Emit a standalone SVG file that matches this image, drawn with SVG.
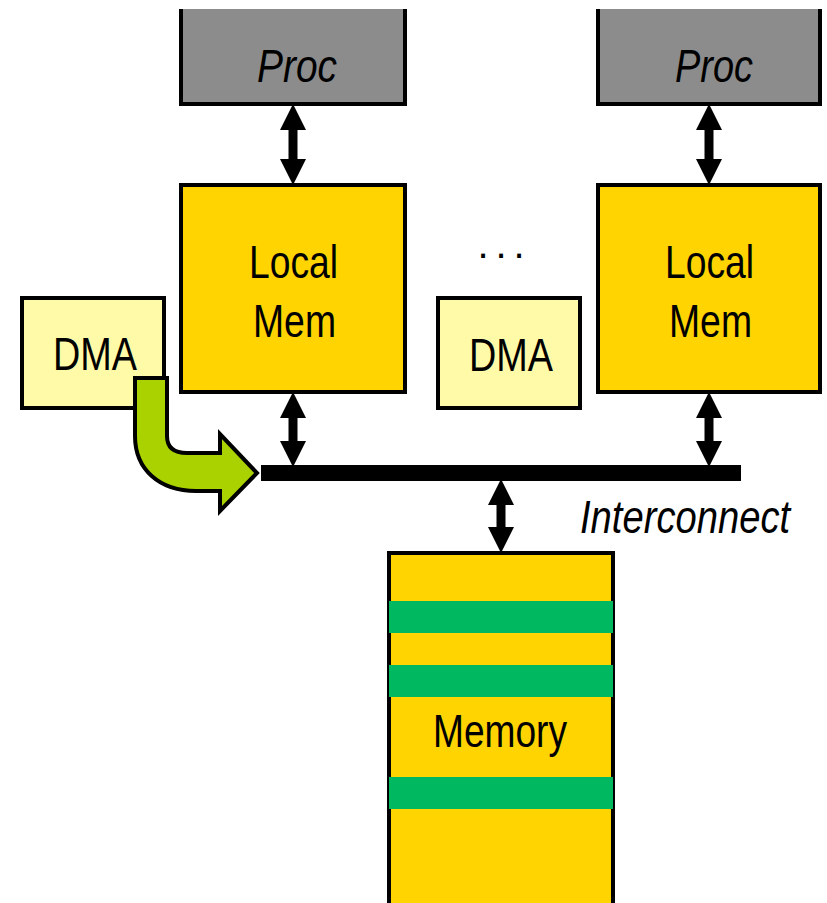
<svg xmlns="http://www.w3.org/2000/svg" width="827" height="903" viewBox="0 0 827 903">
  <style>
    .box { stroke: #000; stroke-width: 4; }
    .proc { fill: #8c8c8c; }
    .mem { fill: #ffd400; }
    .dma { fill: #fffaa8; }
    .band { fill: #00b860; }
    .lbl { font-family: "Liberation Sans Narrow", "Liberation Sans", Arial, sans-serif; font-size: 46px; fill: #000; text-anchor: middle; }
    .it { font-style: italic; }
    .link { stroke: #000; stroke-width: 9; fill: none; marker-start: url(#head); marker-end: url(#head); }
  </style>
  <defs>
    <marker id="head" markerUnits="userSpaceOnUse" markerWidth="26" markerHeight="26" refX="0" refY="12" orient="auto-start-reverse" viewBox="0 0 24 24">
      <path d="M0,0 L24,12 L0,24 Z" fill="#000"/>
    </marker>
  </defs>

  <!-- processors -->
  <g id="proc-1">
    <rect class="proc" x="181" y="9" width="224" height="95"/>
    <path d="M181,9 V104 H405 V9" fill="none" stroke="#000" stroke-width="4"/>
    <text class="lbl it" x="297" y="82" textLength="80" lengthAdjust="spacingAndGlyphs">Proc</text>
  </g>
  <g id="proc-2">
    <rect class="proc" x="598" y="9" width="222" height="95"/>
    <path d="M598,9 V104 H820 V9" fill="none" stroke="#000" stroke-width="4"/>
    <text class="lbl it" x="714" y="82" textLength="78" lengthAdjust="spacingAndGlyphs">Proc</text>
  </g>

  <!-- local memories -->
  <g id="local-mem-1">
    <rect class="box mem" x="181" y="185" width="224" height="207"/>
    <text class="lbl" x="293.5" y="278" textLength="89" lengthAdjust="spacingAndGlyphs">Local</text>
    <text class="lbl" x="294.5" y="337" textLength="83" lengthAdjust="spacingAndGlyphs">Mem</text>
  </g>
  <g id="local-mem-2">
    <rect class="box mem" x="598" y="185" width="222" height="207"/>
    <text class="lbl" x="709.5" y="278" textLength="89" lengthAdjust="spacingAndGlyphs">Local</text>
    <text class="lbl" x="710.5" y="337" textLength="83" lengthAdjust="spacingAndGlyphs">Mem</text>
  </g>

  <!-- ellipsis between the tiles -->
  <g id="more">
    <text class="lbl" style="font-size:40px" x="483 501 519" y="258">...</text>
  </g>

  <!-- DMA engines -->
  <g id="dma-1">
    <rect class="box dma" x="22" y="298" width="142" height="110"/>
    <text class="lbl" x="95" y="370" textLength="84" lengthAdjust="spacingAndGlyphs">DMA</text>
  </g>
  <g id="dma-2">
    <rect class="box dma" x="438" y="298" width="142" height="110"/>
    <text class="lbl" x="511" y="371" textLength="84" lengthAdjust="spacingAndGlyphs">DMA</text>
  </g>

  <!-- main memory -->
  <g id="memory">
    <rect class="box mem" x="389" y="553" width="224" height="370"/>
    <rect class="band" x="389" y="601" width="224" height="32"/>
    <rect class="band" x="389" y="665" width="224" height="32"/>
    <rect class="band" x="389" y="777" width="224" height="32"/>
    <text class="lbl" x="500" y="747" textLength="134" lengthAdjust="spacingAndGlyphs">Memory</text>
  </g>

  <!-- interconnect bus; label squeezed horizontally to a narrow face -->
  <g id="interconnect">
    <rect x="261" y="465" width="480" height="16" fill="#000"/>
    <text class="lbl it" style="text-anchor:start" transform="translate(580,533) scale(0.83,1)">Interconnect</text>
  </g>

  <!-- connectors -->
  <g id="connectors">
    <line class="link" x1="293" y1="130" x2="293" y2="159"/>
    <line class="link" x1="709" y1="130" x2="709" y2="159"/>
    <line class="link" x1="293" y1="418" x2="293" y2="441"/>
    <line class="link" x1="709" y1="418" x2="709" y2="441"/>
    <line class="link" x1="501" y1="505" x2="501" y2="527"/>
    <path id="dma-transfer" d="M135,378 H167 V436 Q167,453 187,453 H220 V434 L257,473 L220,511 V491 H196 C160,491 135,470 135,436 Z" fill="#aad200" stroke="#000" stroke-width="4" stroke-linejoin="miter"/>
  </g>
</svg>
